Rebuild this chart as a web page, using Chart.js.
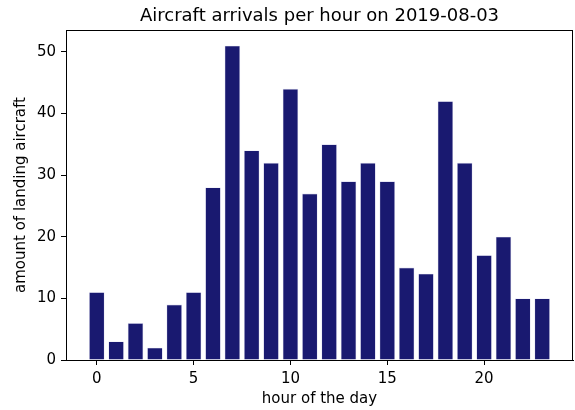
<!DOCTYPE html>
<html><head><meta charset="utf-8">
<script src="https://cdn.jsdelivr.net/npm/chart.js@4/dist/chart.umd.min.js"></script>
<style>html,body{margin:0;padding:0;background:#fff}#w{width:575px;height:410px}</style>
</head><body><div id="w"><canvas id="c" width="575" height="410"></canvas></div>
<script>
const hours = [0,1,2,3,4,5,6,7,8,9,10,11,12,13,14,15,16,17,18,19,20,21,22,23];
const arrivals = [11,3,6,2,9,11,28,51,34,32,44,27,35,29,32,29,15,14,42,32,17,20,10,10];
const xTicks = [0,5,10,15,20];
const yTicks = [0,10,20,30,40,50];
const titleText = 'Aircraft arrivals per hour on 2019-08-03';
const xLabel = 'hour of the day';
const yLabel = 'amount of landing aircraft';

const FONT = 'DejaVu Sans';
const frame = {
  id: 'frame',
  afterDraw(chart) {
    const a = chart.chartArea, ctx = chart.ctx;
    ctx.save();
    ctx.strokeStyle = '#000';
    ctx.lineWidth = 1;
    ctx.strokeRect(Math.round(a.left) + 0.5, Math.round(a.top) + 0.5, Math.round(a.right - a.left) - 1, Math.round(a.bottom - a.top));
    ctx.restore();
  }
};

new Chart(document.getElementById('c'), {
  type: 'bar',
  data: {
    datasets: [{
      data: hours.map((h, i) => ({x: h, y: arrivals[i]})),
      backgroundColor: '#191970',
      borderColor: 'rgba(200,200,230,0.8)',
      borderWidth: 0.6,
      barPercentage: 0.8,
      categoryPercentage: 1.0
    }]
  },
  options: {
    responsive: false,
    animation: false,
    layout: {padding: {left: 0, right: 2, top: 0, bottom: 0}},
    plugins: {
      legend: {display: false},
      tooltip: {enabled: false},
      title: {
        display: true, text: titleText, fullSize: false,
        color: '#000', font: {family: FONT, size: 18, weight: 'normal'},
        padding: {top: 5.5, bottom: 2.9}
      }
    },
    scales: {
      x: {
        type: 'linear', min: -1.59, max: 24.59, offset: false,
        afterBuildTicks: s => { s.ticks = xTicks.map(v => ({value: v})); },
        afterFit: s => { s.height = 50; },
        grid: {display: true, offset: false, drawOnChartArea: false, drawTicks: true, tickLength: 5, color: '#000', tickColor: '#000'},
        border: {display: true, color: '#000', width: 1},
        ticks: {color: '#000', font: {family: FONT, size: 15}, padding: 5, maxRotation: 0, autoSkip: false},
        title: {display: true, text: xLabel, color: '#000', font: {family: FONT, size: 15}, padding: {top: 0, bottom: 2}}
      },
      y: {
        type: 'linear', min: 0, max: 53.55,
        afterBuildTicks: s => { s.ticks = yTicks.map(v => ({value: v})); },
        afterFit: s => { s.width = 66; },
        grid: {display: true, drawOnChartArea: false, drawTicks: true, tickLength: 5, color: '#000', tickColor: '#000'},
        border: {display: true, color: '#000', width: 1},
        ticks: {color: '#000', font: {family: FONT, size: 15}, padding: 5},
        title: {display: true, text: yLabel, color: '#000', font: {family: FONT, size: 15}, padding: {top: 12, bottom: 0}}
      }
    }
  },
  plugins: [frame]
});
</script>
</body></html>
